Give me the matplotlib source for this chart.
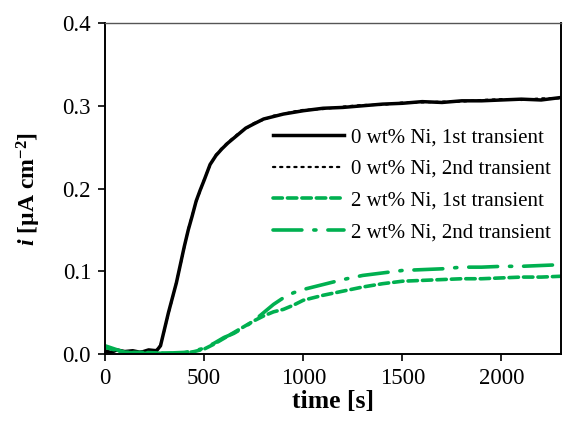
import matplotlib
matplotlib.use('Agg')
import matplotlib.pyplot as plt

plt.rcParams['font.family'] = ['Liberation Serif', 'DejaVu Serif']
plt.rcParams['mathtext.fontset'] = 'custom'
plt.rcParams['mathtext.rm'] = 'Liberation Serif:bold'
plt.rcParams['mathtext.it'] = 'Liberation Serif:bold:italic'

# 0 wt% Ni
t_ni0 = [0, 30, 60, 100, 140, 180, 220, 260, 280, 300, 320, 340, 360, 380, 400,
         420, 440, 460, 480, 500, 530, 560, 590, 620, 650, 680, 710, 750, 800,
         850, 900, 950, 1000, 1100, 1200, 1300, 1400, 1500, 1600, 1700, 1800,
         1900, 2000, 2100, 2200, 2300]
i_ni0_1st = [0.004, 0.002, 0.005, 0.003, 0.004, 0.002, 0.005, 0.004, 0.010,
             0.030, 0.050, 0.068, 0.086, 0.108, 0.130, 0.150, 0.167, 0.185,
             0.198, 0.210, 0.229, 0.240, 0.248, 0.255, 0.261, 0.267, 0.273,
             0.278, 0.284, 0.287, 0.290, 0.292, 0.294, 0.297, 0.298, 0.300,
             0.302, 0.303, 0.305, 0.304, 0.306, 0.306, 0.307, 0.308, 0.307, 0.310]
i_ni0_2nd = [0.003, 0.003, 0.004, 0.003, 0.003, 0.003, 0.004, 0.005, 0.011,
             0.029, 0.049, 0.067, 0.087, 0.107, 0.129, 0.151, 0.168, 0.184,
             0.197, 0.211, 0.228, 0.241, 0.249, 0.256, 0.262, 0.268, 0.272,
             0.279, 0.283, 0.288, 0.290, 0.293, 0.295, 0.296, 0.299, 0.301,
             0.301, 0.304, 0.304, 0.305, 0.305, 0.307, 0.308, 0.307, 0.309, 0.309]

# 2 wt% Ni
t_ni2 = [0, 100, 200, 300, 400, 450, 500, 550, 600, 650, 700, 750, 800, 850,
         900, 950, 1000, 1100, 1200, 1300, 1400, 1500, 1600, 1700, 1800, 1900,
         2000, 2100, 2200, 2300]
i_ni2_1st = [0.008, 0.002, 0.002, 0.001, 0.001, 0.003, 0.006, 0.012, 0.019,
             0.026, 0.033, 0.040, 0.046, 0.051, 0.054, 0.059, 0.065, 0.071,
             0.076, 0.081, 0.085, 0.088, 0.089, 0.090, 0.091, 0.091, 0.092,
             0.093, 0.093, 0.094]
i_ni2_2nd = [0.010, 0.002, 0.001, 0.001, 0.002, 0.004, 0.007, 0.013, 0.020,
             0.025, 0.032, 0.040, 0.050, 0.060, 0.068, 0.074, 0.078, 0.084,
             0.090, 0.095, 0.098, 0.101, 0.102, 0.103, 0.105, 0.105, 0.106,
             0.106, 0.107, 0.108]

green = '#00B050'

fig = plt.figure(figsize=(5.63, 4.23), dpi=100)
ax = fig.add_axes([0.1865, 0.163, 0.8099, 0.7826])

ax.plot(t_ni0, i_ni0_1st, color='black', lw=2.5, label='0 wt% Ni, 1st transient')
ax.plot(t_ni0, i_ni0_2nd, color='black', lw=1.6, dashes=(1, 2.2),
        dash_capstyle='round', label='0 wt% Ni, 2nd transient')
ax.plot(t_ni2, i_ni2_1st, color=green, lw=2.6, dashes=(2.6, 1.4),
        dash_capstyle='round', label='2 wt% Ni, 1st transient')
ax.plot(t_ni2, i_ni2_2nd, color=green, lw=2.6, dashes=(8.0, 3.3, 0.6, 3.3),
        dash_capstyle='round', label='2 wt% Ni, 2nd transient')

ax.set_xlim(0, 2300)
ax.set_ylim(0, 0.4)
ax.set_xticks([0, 500, 1000, 1500, 2000])
ax.set_yticks([0.0, 0.1, 0.2, 0.3, 0.4])
ax.set_yticklabels(['0.0', '0.1', '0.2', '0.3', '0.4'])
ax.tick_params(direction='out', length=5, width=1.2, labelsize=16.5, pad=5)

for side in ['left', 'bottom', 'right']:
    ax.spines[side].set_linewidth(1.4)
    ax.spines[side].set_color('black')
ax.spines['top'].set_linewidth(1.0)
ax.spines['top'].set_color('#555555')

ax.set_xlabel('time [s]', fontsize=18.5, fontweight='bold', labelpad=1)
ax.set_ylabel(r'$i\ \mathrm{[µA\ cm^{-2}]}$', fontsize=17, labelpad=14)

ax.legend(loc='upper left', bbox_to_anchor=(0.368, 0.684), frameon=False,
          fontsize=15, handlelength=3.4, handletextpad=0.33, labelspacing=0.58,
          borderpad=0, borderaxespad=0)

plt.savefig('out.png', dpi=100)
